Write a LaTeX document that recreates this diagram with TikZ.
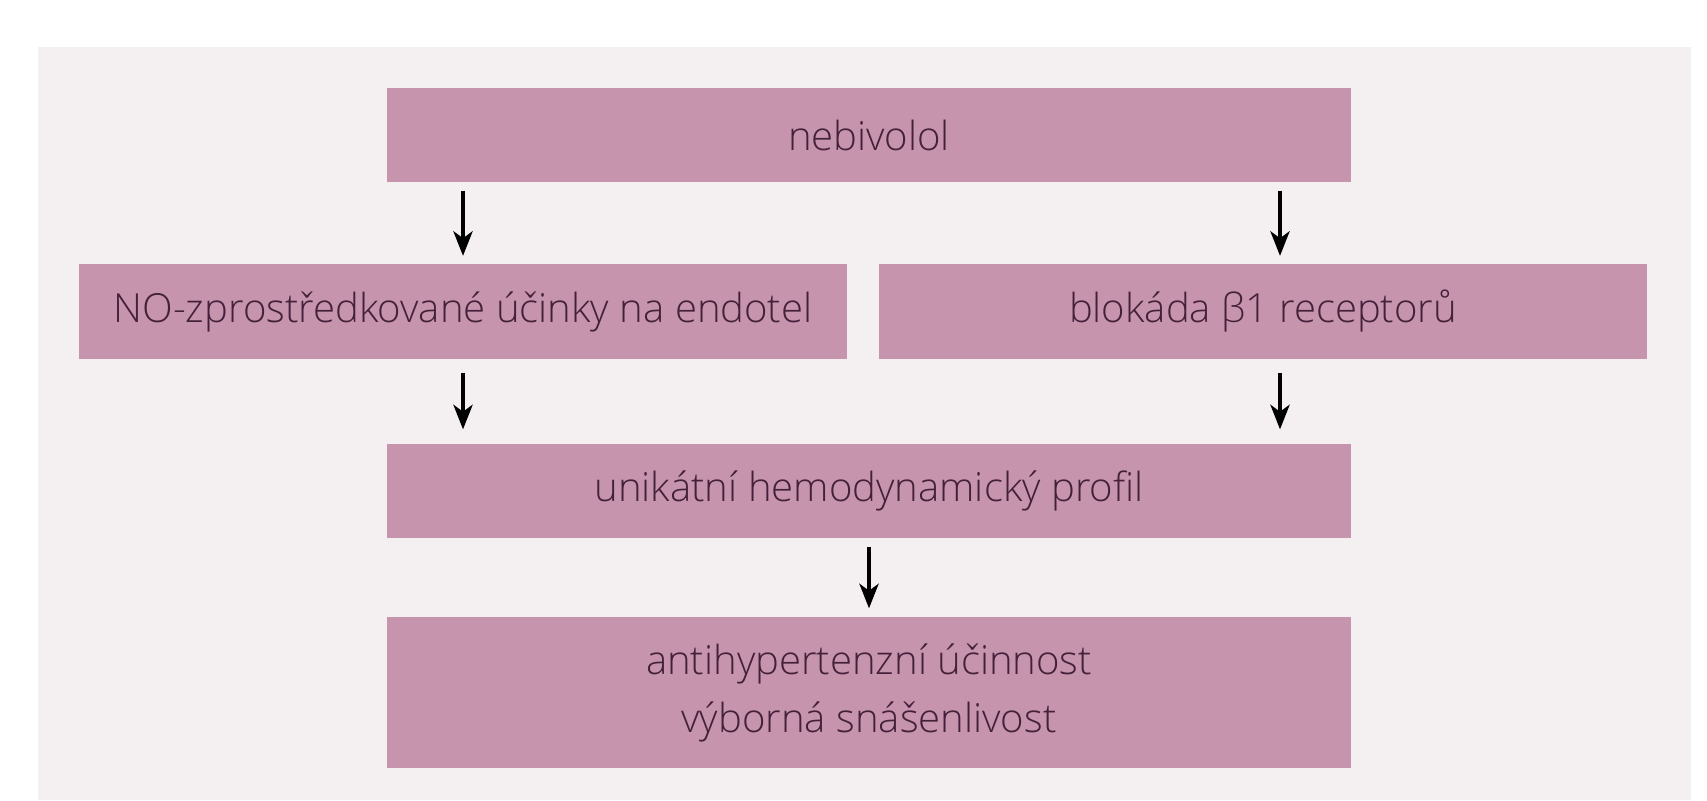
\documentclass[tikz,border=0pt]{standalone}
\usepackage{fontspec}
\setmainfont{Open Sans}[UprightFont=* Light]
\usepackage{xcolor}
\usetikzlibrary{arrows.meta}
\definecolor{bgpink}{HTML}{F4EFF1}
\definecolor{boxpink}{HTML}{C794AD}
\definecolor{textplum}{HTML}{44203A}
\tikzset{
    flowbox/.style={rectangle, fill=boxpink, text=textplum, align=center, inner sep=0pt,
        minimum height=0.94cm, font=\fontsize{11.4}{16.5}\selectfont},
    widebox/.style={flowbox, minimum width=9.64cm},
    halfbox/.style={flowbox, minimum width=7.68cm},
    arr/.style={-{Stealth[length=7pt,width=5.5pt,inset=2pt]}, line width=0.9pt, black,
        shorten <=0.08cm, shorten >=0.08cm}
}
\begin{document}
\begin{tikzpicture}
    \useasboundingbox (0,0) rectangle (17.07,-8.00);
    \fill[white] (0,0) rectangle (17.07,-8.00);
    \fill[bgpink] (0.38,-0.47) rectangle (16.91,-8.00);
    \node[widebox] (neb) at (8.69,-1.35) {nebivolol};
    \node[halfbox] (no) at (4.63,-3.115) {NO-zprostředkované účinky na endotel};
    \node[halfbox] (blok) at (12.63,-3.115) {blokáda β1 receptorů};
    \node[widebox] (uni) at (8.69,-4.91) {unikátní hemodynamický profil};
    \node[widebox, minimum height=1.51cm] (anti) at (8.69,-6.925)
        {antihypertenzní účinnost\\výborná snášenlivost};
    \draw[arr] (neb.south -| no.north) -- (no.north);
    \draw[arr] ([xshift=0.17cm]blok.north |- neb.south) -- ([xshift=0.17cm]blok.north);
    \draw[arr, shorten <=0.14cm, shorten >=0.14cm] (no.south) -- (uni.north -| no.south);
    \draw[arr, shorten <=0.14cm, shorten >=0.14cm] ([xshift=0.17cm]blok.south) -- ([xshift=0.17cm]blok.south |- uni.north);
    \draw[arr] (uni.south) -- (anti.north);
\end{tikzpicture}
\end{document}
